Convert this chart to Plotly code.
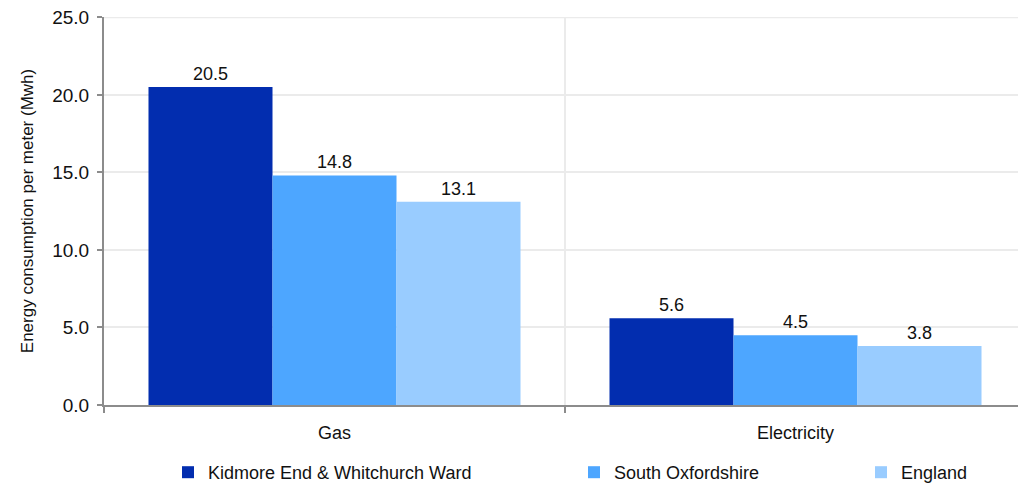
import plotly.graph_objects as go

categories = ["Gas", "Electricity"]
series_names = ["Kidmore End & Whitchurch Ward", "South Oxfordshire", "England"]
kidmore = [20.5, 5.6]
south_oxon = [14.8, 4.5]
england = [13.1, 3.8]
colors = ["#022DAF", "#4DA6FF", "#99CCFF"]
y_ticks = [0, 5, 10, 15, 20, 25]

FONT = "Liberation Sans, Arial, sans-serif"
W, H = 1026, 483
OFF = 8  # page body margin
GRID = "#EBEBEB"
legend_ids = ["legend", "legend2", "legend3"]
legend_left_px = [160, 566, 853]

fig = go.Figure()
for name, vals, col, lid in zip(series_names, [kidmore, south_oxon, england], colors, legend_ids):
    fig.add_trace(go.Bar(
        x=categories, y=vals, name=name, marker=dict(color=col, line=dict(width=0)),
        text=[f"{v:.1f}" for v in vals], textposition="outside",
        textfont=dict(size=18, color="#111111", family=FONT), cliponaxis=False,
        legend=lid,
    ))

legend_common = dict(xref="container", yref="container", xanchor="left", yanchor="middle",
                     y=1 - (472.5 - OFF) / H, orientation="h",
                     font=dict(size=18, family=FONT, color="#111111"),
                     bgcolor="rgba(0,0,0,0)", borderwidth=0)
layout_legends = {lid: dict(x=px / W, **legend_common) for lid, px in zip(legend_ids, legend_left_px)}

fig.update_layout(
    width=W, height=H,
    margin=dict(l=104 - OFF, r=OFF, t=17 - OFF, b=78 + OFF, autoexpand=False),
    plot_bgcolor="white", paper_bgcolor="white",
    font=dict(family=FONT, size=18, color="#111111"),
    barmode="group", bargap=0.193, bargroupgap=0,
    showlegend=True,
    **layout_legends,
)
# top gridline at the range end (plotly drops the one on the plot edge)
fig.add_shape(type="line", xref="paper", x0=0, x1=1, yref="y", y0=y_ticks[-1], y1=y_ticks[-1],
              line=dict(color=GRID, width=2), layer="below")
fig.update_xaxes(
    showline=True, linecolor="#8C8C8C", linewidth=2,
    ticks="outside", tickson="boundaries", ticklen=6, tickcolor="#8C8C8C", tickwidth=2,
    showgrid=True, gridcolor=GRID, gridwidth=2,
    tickfont=dict(size=18, family=FONT), ticklabelstandoff=10,
)
fig.update_yaxes(
    range=[0, 25.02], tickvals=y_ticks, ticktext=[f"{v:.1f}" for v in y_ticks],
    showline=True, linecolor="#8C8C8C", linewidth=2,
    ticks="outside", ticklen=5, tickcolor="#8C8C8C", tickwidth=2,
    showgrid=True, gridcolor=GRID, gridwidth=2, zeroline=False,
    tickfont=dict(size=19, family=FONT), ticklabeloverflow="allow", ticklabelstandoff=4,
    title=dict(text="Energy consumption per meter (Mwh)", font=dict(size=17, family=FONT), standoff=14),
)

fig.write_html("out.html")
